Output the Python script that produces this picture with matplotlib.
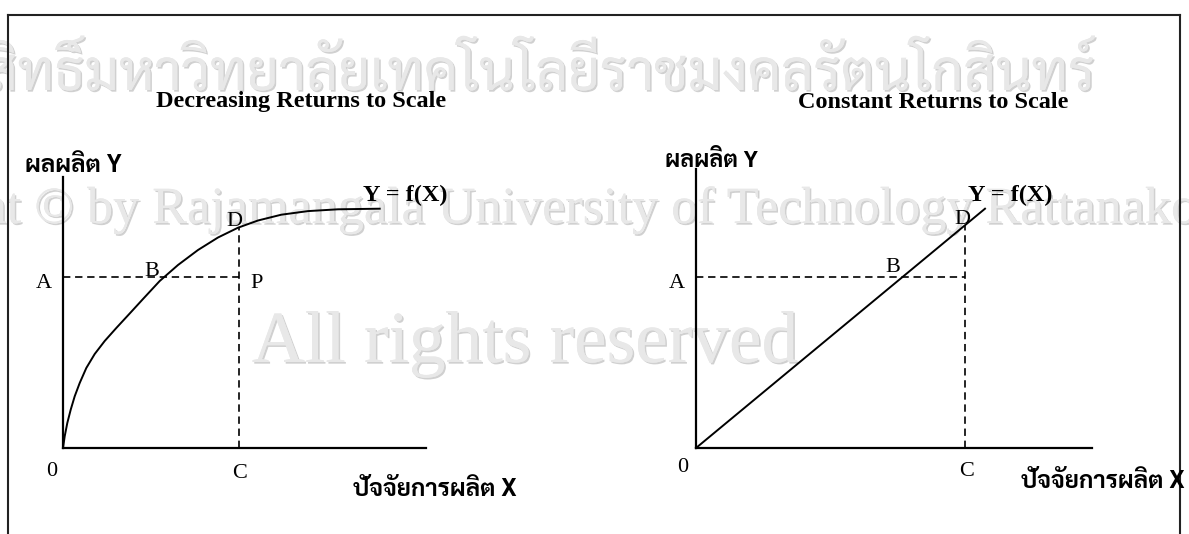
import matplotlib
matplotlib.use('Agg')
import matplotlib.pyplot as plt
import matplotlib.patheffects as pe
from matplotlib import font_manager
from matplotlib.ft2font import FT2Font

plt.rcParams['lines.scale_dashes'] = False

# ---- data (units = pixels from each origin) ----
# left panel: decreasing returns to scale
dec_x = [0, 1.7, 4.3, 7.7, 11.7, 16.7, 23.3, 31.7, 41.7, 53.3, 66.7, 80,
         96.7, 115, 135, 155, 175, 195, 218.3, 245, 275, 316.7]
dec_y = [0, 11.7, 25, 38.3, 51.7, 65, 80, 94, 107, 120, 134.5, 149,
         167, 183, 198, 210.5, 220.3, 227.5, 233.3, 236.9, 238.7, 239.3]
dec_A = 170.7
dec_C = 175.7
dec_D = 220.5

# right panel: constant returns to scale
con_x = [0, 289]
con_y = [0, 239.3]
con_A = 170.6
con_C = 269
con_D = 222.8

titles = ['Decreasing Returns to Scale', 'Constant Returns to Scale']
y_label = 'ผลผลิต Y'
x_label = 'ปัจจัยการผลิต X'
func_label = 'Y = f(X)'
wm_thai = 'ลิขสิทธิ์มหาวิทยาลัยเทคโนโลยีราชมงคลรัตนโกสินทร์'
wm_en = 'Copyright © by Rajamangala University of Technology Rattanakosin'
wm_rights = 'All rights reserved'


# ---- fonts ----
def thai_family():
    found = []
    for f in font_manager.fontManager.ttflist:
        try:
            cmap = FT2Font(f.fname).get_charmap()
        except Exception:
            continue
        if 0x0E1C in cmap and 0x0E34 in cmap:
            found.append(f.name)
    prefer = ['Laksaman', 'Norasi', 'Kinnari', 'TH Sarabun New', 'Sarabun',
              'Noto Serif Thai', 'Noto Sans Thai', 'Loma', 'Garuda']
    for p in prefer:
        if p in found:
            return p
    return found[0] if found else 'DejaVu Sans'


THAI = thai_family()
SERIF = 'Liberation Serif'

W, H = 1189, 534
fig = plt.figure(figsize=(W / 100, H / 100), dpi=100)
renderer = fig.canvas.get_renderer()


def fit(t, width):
    bb = t.get_window_extent(renderer)
    t.set_fontsize(t.get_fontsize() * width / bb.width)


# watermark layer
bg = fig.add_axes([0, 0, 1, 1], zorder=0)
bg.set_xlim(0, W)
bg.set_ylim(H, 0)
bg.axis('off')
shadow = [pe.withSimplePatchShadow(offset=(1.2, -1.2), shadow_rgbFace='#d0d0d0', alpha=1),
          pe.Normal()]
wm_color = '#e8e8e8'
t = bg.text(508, 90, wm_thai, ha='center', va='baseline', color=wm_color,
            family=[THAI, 'DejaVu Sans'], fontsize=60, path_effects=shadow)
fit(t, 1175)
t = bg.text(535, 223, wm_en, ha='center', va='baseline', color=wm_color,
            family=[SERIF, 'DejaVu Serif'], fontsize=42, path_effects=shadow)
fit(t, 1450)
t = bg.text(525, 362, wm_rights, ha='center', va='baseline', color=wm_color,
            family=[SERIF, 'DejaVu Serif'], fontsize=55, path_effects=shadow)
fit(t, 546)

# outer frame (bottom edge runs off the picture)
frame = fig.add_axes([8 / W, -0.2, (1180 - 8) / W, (H - 15) / H + 0.2], zorder=1)
frame.patch.set_visible(False)
frame.set_xticks([])
frame.set_yticks([])
frame.spines['bottom'].set_visible(False)
for s in ['left', 'top', 'right']:
    frame.spines[s].set_linewidth(1.5)
    frame.spines[s].set_color('#222222')


def panel(left, width, height, cx, cy, A, C, D, title, pos):
    ax = fig.add_axes([left / W, (H - 448) / H, width / W, height / H], zorder=2)
    ax.set_xlim(0, width)
    ax.set_ylim(0, height)
    ax.patch.set_visible(False)
    ax.set_xticks([])
    ax.set_yticks([])
    for s in ['top', 'right']:
        ax.spines[s].set_visible(False)
    for s in ['left', 'bottom']:
        ax.spines[s].set_linewidth(1.6)
    ax.plot(cx, cy, color='black', lw=1.4, clip_on=False)
    dash = (0, (5.3, 3.4))
    ax.plot([0, C], [A, A], color='black', lw=1.2, ls=dash, clip_on=False)
    ax.plot([C, C], [0, D], color='black', lw=1.2, ls=dash, clip_on=False)

    ax.text(pos['title'][0], pos['title'][1], title, ha='center', va='center',
            family=SERIF, weight='bold', fontsize=17.5, clip_on=False)
    ax.text(pos['func'][0], pos['func'][1], func_label, ha='center', va='center',
            family=SERIF, weight='bold', fontsize=17.5, clip_on=False)
    for k in ['A', 'B', 'C', 'D', 'P', '0']:
        if k in pos:
            ax.text(pos[k][0], pos[k][1], k, ha='center', va='center',
                    family=SERIF, fontsize=16, clip_on=False)
    t = ax.text(pos['ylab'][0], pos['ylab'][1], y_label, ha='left', va='center',
                family=[THAI, SERIF], weight='bold', fontsize=16, clip_on=False)
    fit(t, pos['ylab'][2])
    t = ax.text(pos['xlab'][0], pos['xlab'][1], x_label, ha='left', va='center',
                family=[THAI, SERIF], weight='bold', fontsize=16, clip_on=False)
    fit(t, pos['xlab'][2])
    return ax


panel(63, 363, 271, dec_x, dec_y, dec_A, dec_C, dec_D, titles[0],
      {'title': (238, 346), 'func': (342, 253), 'D': (171, 227), 'B': (89, 177),
       'A': (-19, 165), 'P': (194, 164), '0': (-11, -23), 'C': (177, -26),
       'ylab': (-38, 282, 97), 'xlab': (290, -42, 164)})
panel(696, 396, 279, con_x, con_y, con_A, con_C, con_D, titles[1],
      {'title': (237, 346), 'func': (314, 253), 'D': (266, 228), 'B': (197, 181),
       'A': (-19, 164), '0': (-13, -19), 'C': (271, -24),
       'ylab': (-31, 287, 93), 'xlab': (325, -34, 164)})

fig.savefig('out.png', dpi=100)
